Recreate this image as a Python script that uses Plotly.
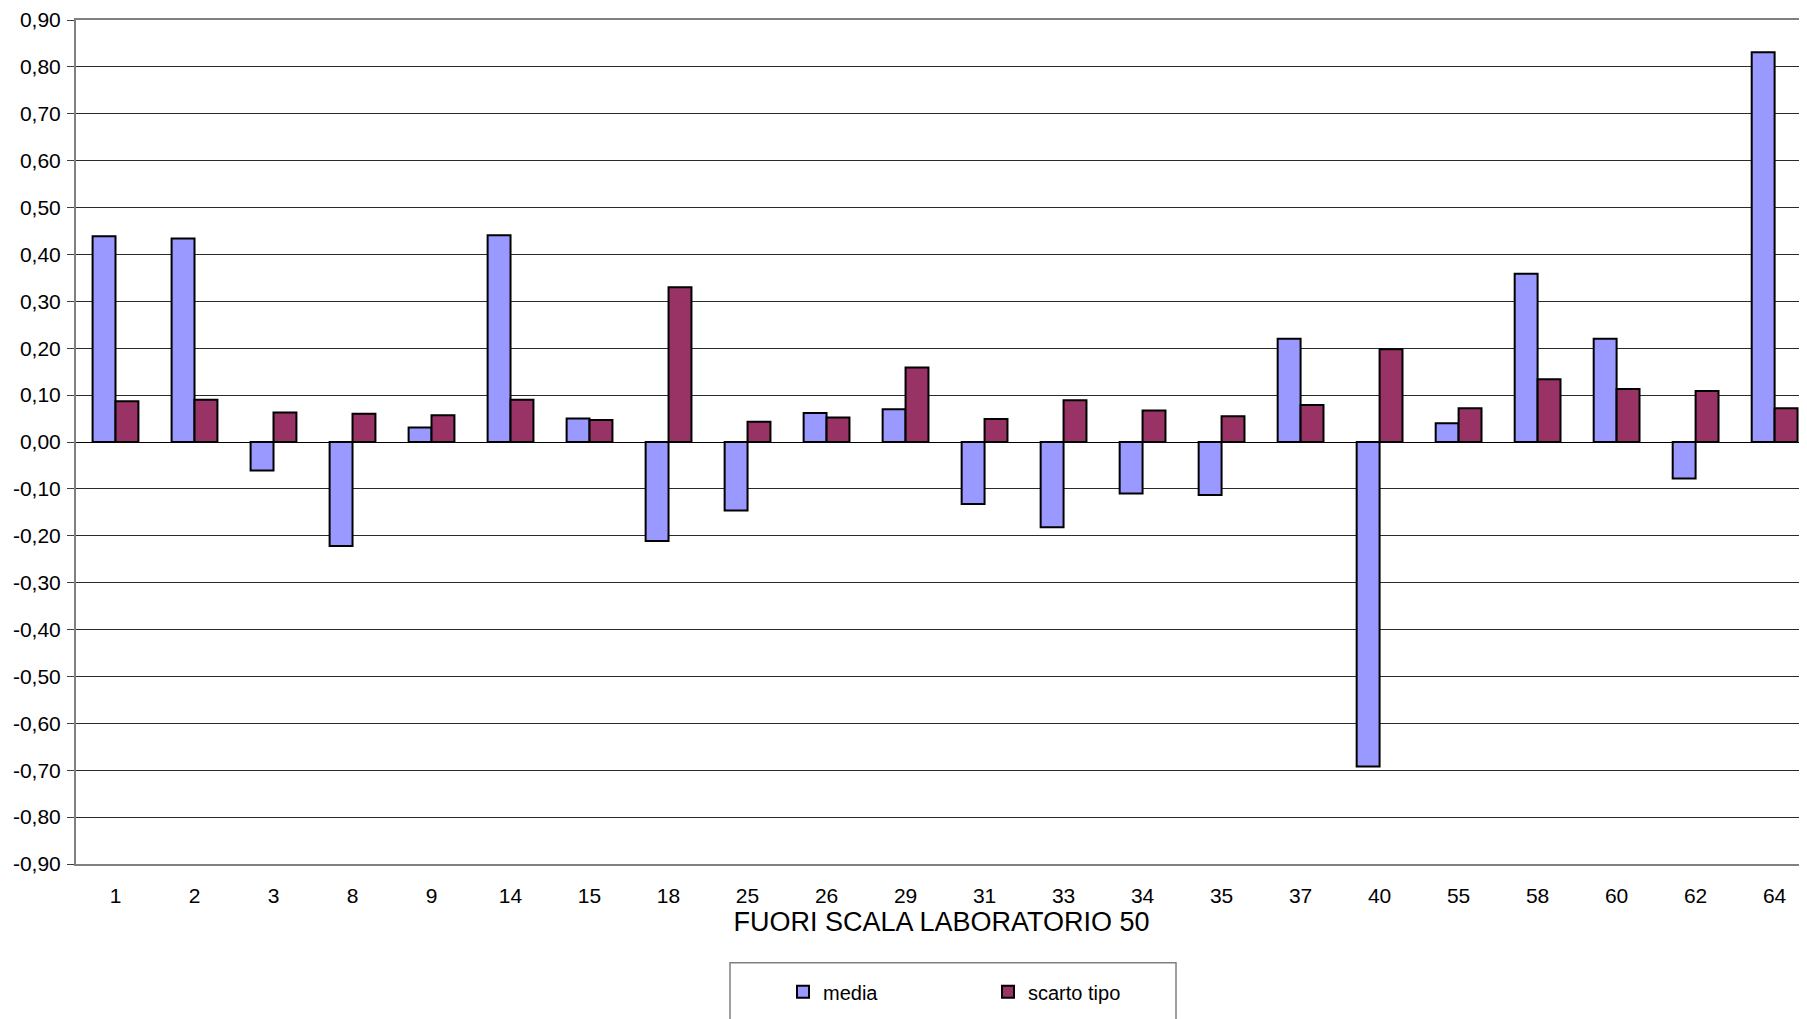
import plotly.graph_objects as go

# laboratori fuori scala
laboratori = ["1", "2", "3", "8", "9", "14", "15", "18", "25", "26", "29",
              "31", "33", "34", "35", "37", "40", "55", "58", "60", "62", "64"]

media = [0.439, 0.434, -0.061, -0.222, 0.031, 0.441, 0.050, -0.211, -0.146, 0.062, 0.070,
         -0.132, -0.182, -0.110, -0.113, 0.220, -0.692, 0.040, 0.359, 0.220, -0.078, 0.831]

scarto_tipo = [0.087, 0.090, 0.063, 0.060, 0.057, 0.090, 0.047, 0.330, 0.043, 0.052, 0.159,
               0.049, 0.089, 0.067, 0.055, 0.079, 0.198, 0.072, 0.134, 0.113, 0.109, 0.072]

y_ticks = [-0.9, -0.8, -0.7, -0.6, -0.5, -0.4, -0.3, -0.2, -0.1, 0.0,
           0.1, 0.2, 0.3, 0.4, 0.5, 0.6, 0.7, 0.8, 0.9]
y_ticktext = ["-0,90", "-0,80", "-0,70", "-0,60", "-0,50", "-0,40", "-0,30", "-0,20", "-0,10", "0,00",
              "0,10", "0,20", "0,30", "0,40", "0,50", "0,60", "0,70", "0,80", "0,90"]

FONT = "Liberation Sans, Arial, sans-serif"

fig = go.Figure()
fig.add_trace(go.Bar(
    x=laboratori, y=media, name="media",
    marker=dict(color="#9999FF", line=dict(color="black", width=2)),
))
fig.add_trace(go.Bar(
    x=laboratori, y=scarto_tipo, name="scarto tipo",
    marker=dict(color="#993366", line=dict(color="black", width=2)),
))

# page has an 8px body margin, so the figure is a bit smaller than the window
OFF = 8
W, H = 1807 - OFF, 1019 - OFF
ml, mr, mt, mb = 68, 0, 10, 155
pw = W - ml - mr
ph = H - mt - mb


def px_x(x):
    # page x -> paper fraction
    return (x - OFF - ml) / pw


def px_y(y):
    # page y -> paper fraction
    return (H - mb - (y - OFF)) / ph


# legend box (runs off the bottom of the picture, as in the original)
fig.add_shape(
    type="rect", xref="paper", yref="paper",
    x0=px_x(730), x1=px_x(1176),
    y0=px_y(1040), y1=px_y(963),
    line=dict(color="#808080", width=1.5), fillcolor="rgba(0,0,0,0)",
)

fig.update_layout(
    width=W, height=H,
    margin=dict(l=ml, r=mr, t=mt, b=mb),
    paper_bgcolor="white", plot_bgcolor="white",
    font=dict(family=FONT, size=21, color="black"),
    barmode="group", bargap=0.42, bargroupgap=0,
    showlegend=True,
    legend=dict(
        orientation="h",
        x=px_x(783), xanchor="left",
        y=px_y(992), yanchor="middle",
        font=dict(size=20),
        entrywidth=160,
        bgcolor="rgba(0,0,0,0)",
    ),
    xaxis=dict(
        type="category",
        range=[-0.5, 21.41],
        showgrid=False,
        showline=True, linecolor="#808080", linewidth=2,
        mirror=True,
        ticks="", ticklabelstandoff=12,
        tickfont=dict(size=21),
        title=dict(text="FUORI SCALA LABORATORIO 50", font=dict(size=27), standoff=2),
    ),
    yaxis=dict(
        range=[-0.9, 0.9],
        tickvals=y_ticks, ticktext=y_ticktext,
        showgrid=True, gridcolor="#2a2a2a", gridwidth=1,
        zeroline=True, zerolinecolor="black", zerolinewidth=1.2,
        showline=True, linecolor="#808080", linewidth=2,
        ticks="outside", ticklen=7, tickcolor="#404040",
        ticklabelstandoff=2,
        ticklabeloverflow="allow",
        tickfont=dict(size=21),
    ),
)

fig.write_html("out.html")
